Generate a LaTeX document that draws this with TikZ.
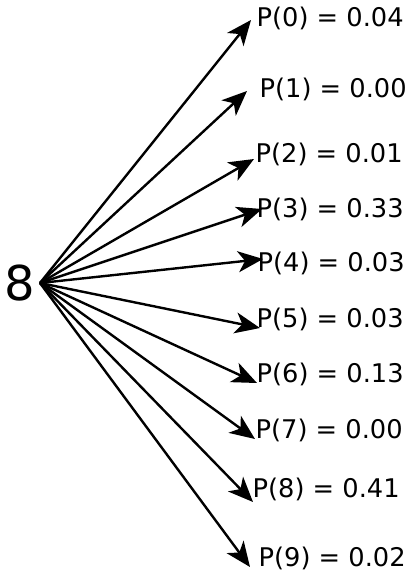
\documentclass[tikz,border=0pt]{standalone}
\usepackage{fontspec}
\setmainfont{DejaVu Sans}
\usetikzlibrary{arrows.meta}

\begin{document}
\begin{tikzpicture}[
    x=1pt, y=-1pt,
    >={Stealth[length=25pt, width=21pt, inset=7pt]},
    pfeil/.style={->, line width=2.4pt},
    wert/.style={anchor=base west, inner sep=0pt, font=\fontsize{25.7}{30}\selectfont}
]
\useasboundingbox (0,0) rectangle (409,572);

% --- ZIFFER ---
\node[inner sep=0pt, anchor=base, font=\fontsize{48}{52}\selectfont] (ziffer) at (20,300) {8};
\coordinate (mitte) at (40,283);

% --- PFEILE UND WAHRSCHEINLICHKEITEN ---
\foreach \i/\tx/\ty/\lx/\ly/\pw in {
    0/251/20/256.5/27/0.04,
    1/247/91/259.5/98/0.00,
    2/254/159/255.5/162/0.01,
    3/262/209/256.5/217/0.33,
    4/263/259/257.5/271/0.03,
    5/260/328/256.5/327/0.03,
    6/257/383/256.5/382/0.13,
    7/255/439/255.5/438/0.00,
    8/253/502/252.5/497/0.41,
    9/250/567/258.5/566/0.02}{
    \coordinate (spitze\i) at (\tx,\ty);
    \node[wert] (p\i) at (\lx,\ly) {P(\i) = \pw};
    \draw[pfeil] (mitte) -- (spitze\i);
}
\end{tikzpicture}
\end{document}
